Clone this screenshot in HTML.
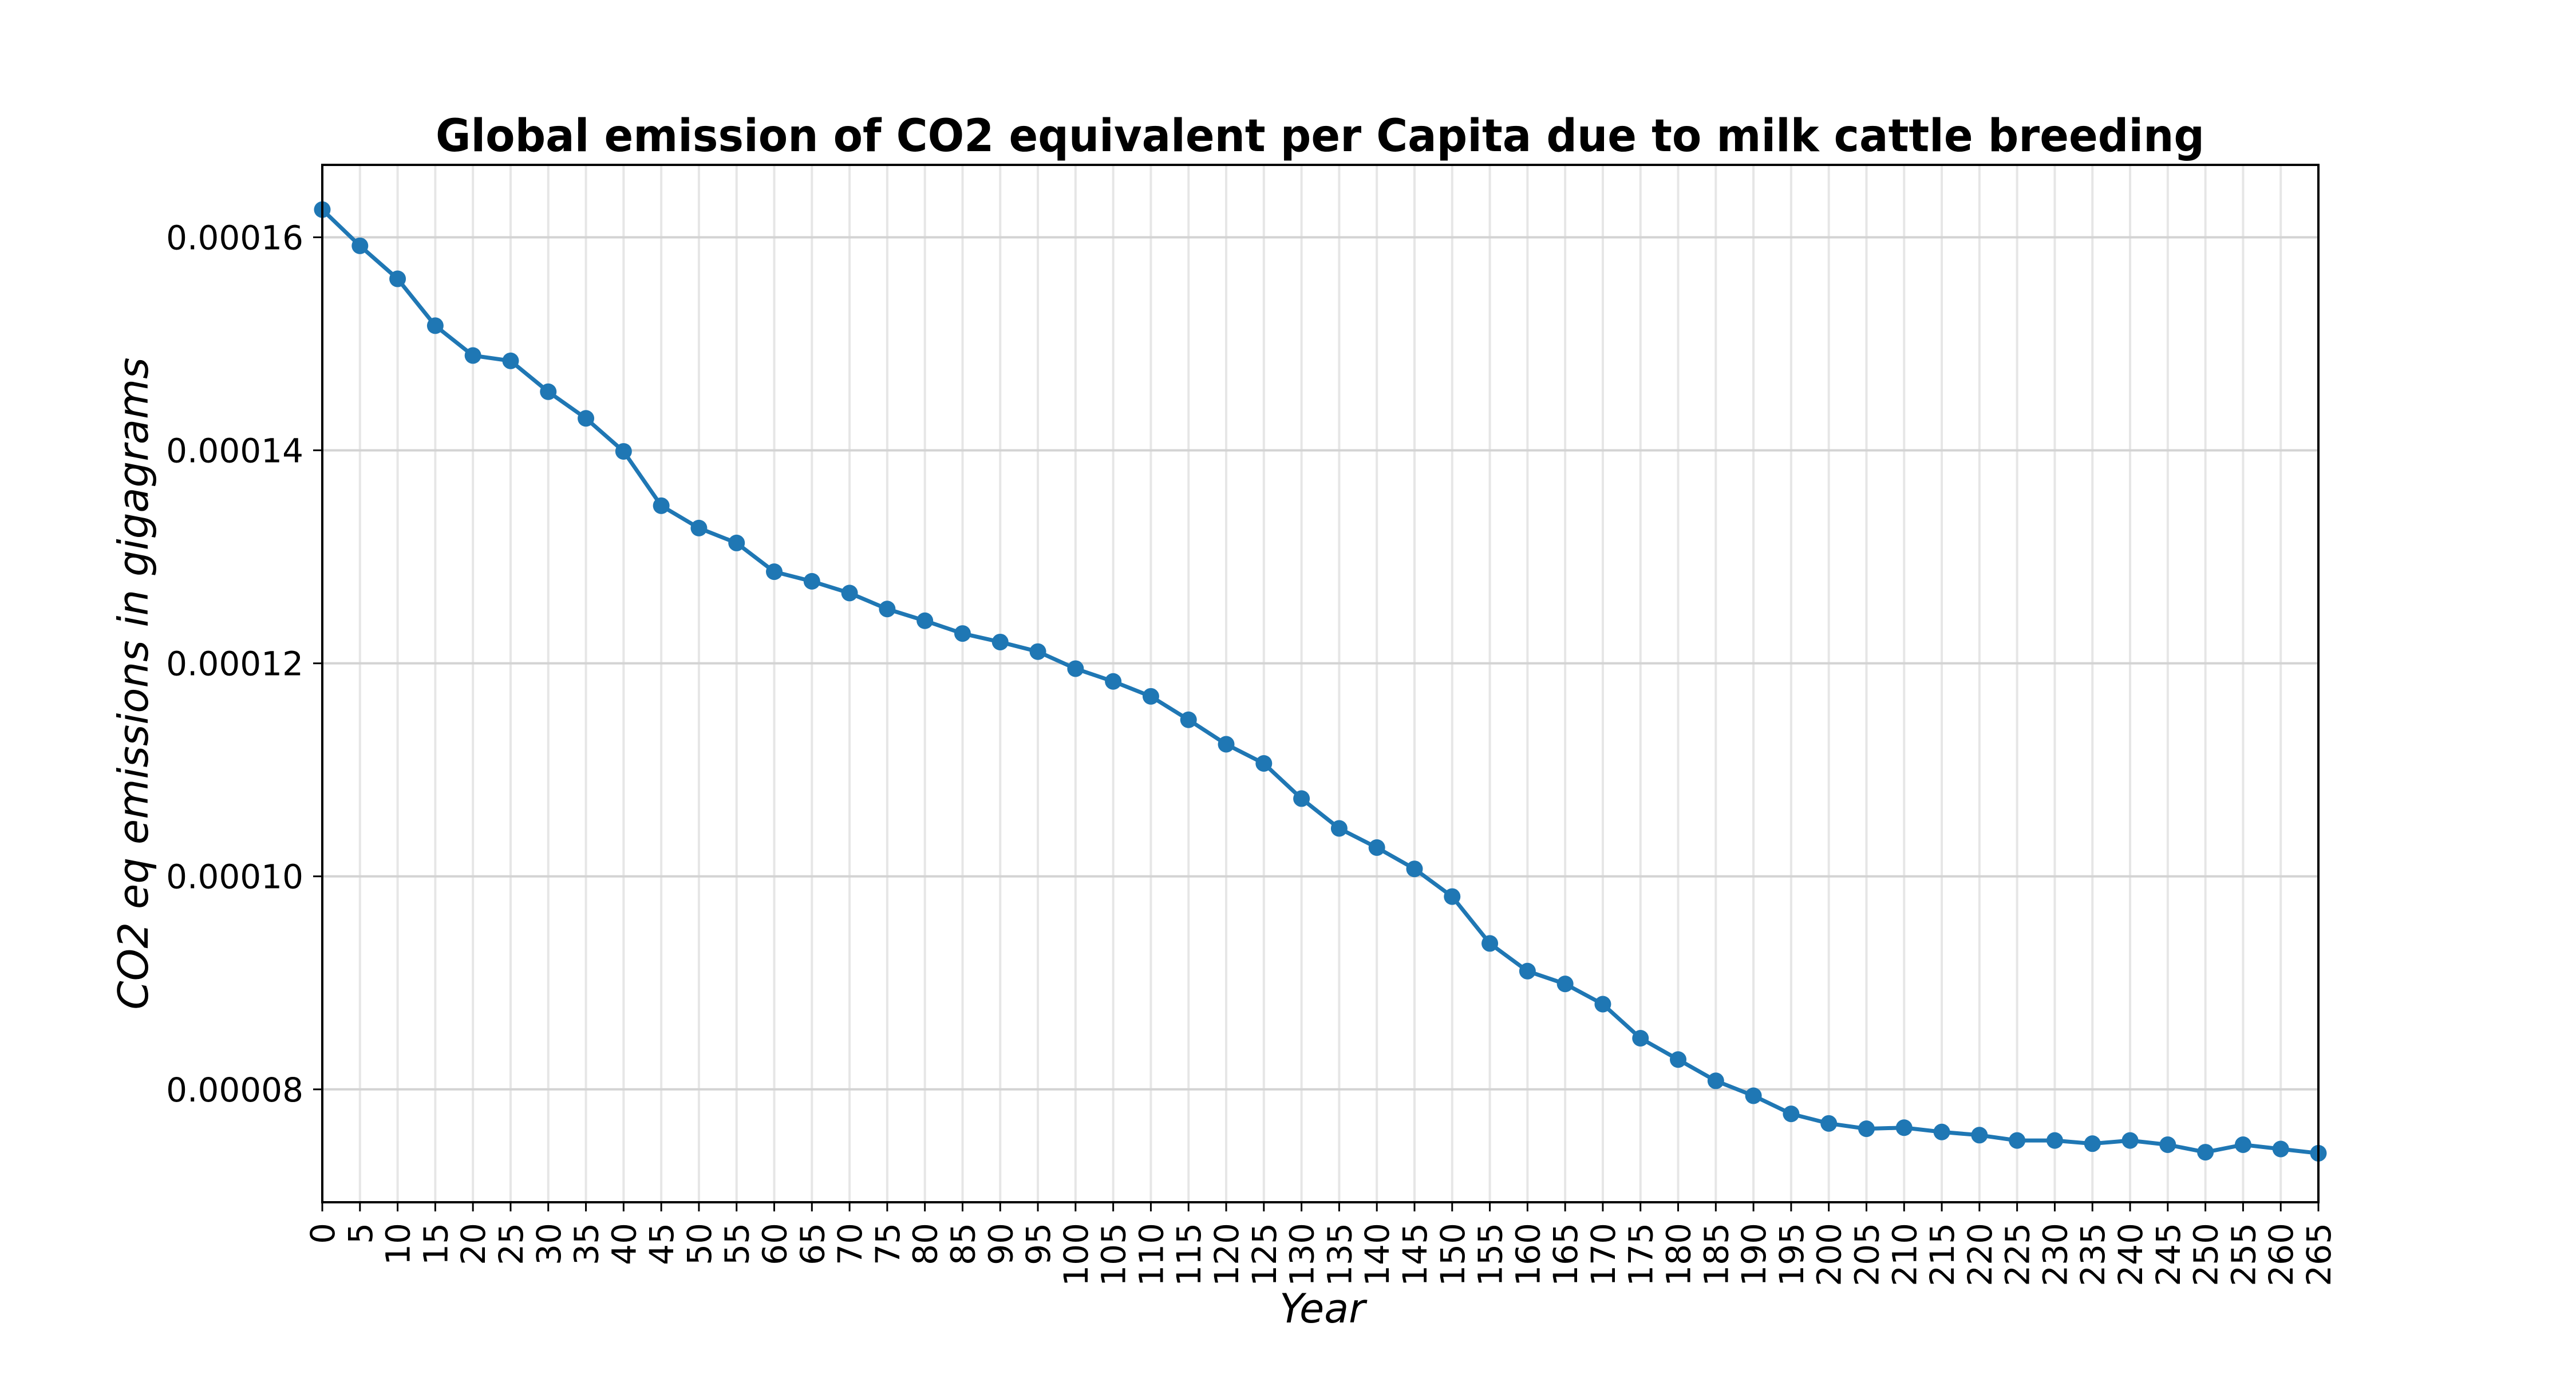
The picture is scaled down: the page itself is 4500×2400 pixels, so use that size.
<!DOCTYPE html>
<html><head><meta charset="utf-8"><style>
html,body{margin:0;padding:0;background:#fff;}
svg{display:block;font-family:"DejaVu Sans","Liberation Sans",sans-serif;}
</style></head><body>
<svg id="chart" width="4500" height="2400" viewBox="0 0 4500 2400" xmlns="http://www.w3.org/2000/svg">
<rect width="4500" height="2400" fill="#fff"/>
<g id="grid"></g>
<g id="series"></g>
<g id="axes"></g>
<text x="2306" y="264" text-anchor="middle" font-weight="bold" font-size="78" textLength="3090" lengthAdjust="spacingAndGlyphs">Global emission of CO2 equivalent per Capita due to milk cattle breeding</text>
<text transform="translate(258,1194) rotate(-90)" text-anchor="middle" font-style="italic" font-size="72">CO2 eq emissions in gigagrams</text>
<text x="2310" y="2310" text-anchor="middle" font-style="italic" font-size="70">Year</text>
</svg>
<script>
const years = [0,5,10,15,20,25,30,35,40,45,50,55,60,65,70,75,80,85,90,95,100,105,110,115,120,125,130,135,140,145,150,155,160,165,170,175,180,185,190,195,200,205,210,215,220,225,230,235,240,245,250,255,260,265];
const emissions = [0.0001626,0.0001592,0.0001561,0.0001517,0.0001489,0.0001484,0.0001455,0.0001430,0.0001399,0.0001348,0.0001327,0.0001313,0.0001286,0.0001277,0.0001266,0.0001251,0.0001240,0.0001228,0.0001220,0.0001211,0.0001195,0.0001183,0.0001169,0.0001147,0.0001124,0.0001106,0.0001073,0.0001045,0.0001027,0.0001007,0.0000981,0.0000937,0.0000911,0.0000899,0.0000880,0.0000848,0.0000828,0.0000808,0.0000794,0.0000777,0.0000768,0.0000763,0.0000764,0.0000760,0.0000757,0.0000752,0.0000752,0.0000749,0.0000752,0.0000748,0.0000741,0.0000748,0.0000744,0.0000740];
const yTicks = [0.00008,0.00010,0.00012,0.00014,0.00016];
const yTickLabels = ["0.00008","0.00010","0.00012","0.00014","0.00016"];

const NS="http://www.w3.org/2000/svg";
const L=563,R=4050,T=288,B=2100;
const xMin=0,xMax=265,yMin=0.0000694,yMax=0.0001668;
function xs(v){return L+(v-xMin)/(xMax-xMin)*(R-L);}
function ys(v){return B-(v-yMin)/(yMax-yMin)*(B-T);}
function mk(tag,attrs,parent){const e=document.createElementNS(NS,tag);for(const k in attrs)e.setAttribute(k,attrs[k]);parent.appendChild(e);return e;}
const grid=document.getElementById('grid'),axes=document.getElementById('axes'),series=document.getElementById('series');

years.forEach(y=>{
  const x=xs(y);
  const g=mk('line',{x1:x,x2:x,y1:T,y2:B,stroke:'#e6e6e6','stroke-width':4},grid);
  
  
  const t=mk('line',{x1:x,x2:x,y1:B,y2:B+16,stroke:'#000','stroke-width':3},axes);
  
  
  const lb=mk('text',{transform:`translate(${x+21},2136) rotate(-90)`,'text-anchor':'end','font-size':58},axes);
  lb.textContent=String(y);
  
  
});
yTicks.forEach((v,i)=>{
  const y=ys(v);
  const g=mk('line',{x1:L,x2:R,y1:y,y2:y,stroke:'#d3d3d3','stroke-width':4},grid);
  
  
  const t=mk('line',{x1:L-16,x2:L,y1:y,y2:y,stroke:'#000','stroke-width':3},axes);
  
  
  const lb=mk('text',{x:530,y:y+21,'text-anchor':'end','font-size':58},axes);
  lb.textContent=yTickLabels[i];
  
  
});
const frame=mk('rect',{x:L,y:T,width:R-L,height:B-T,fill:'none',stroke:'#000','stroke-width':4},axes);



const pts=years.map((y,i)=>xs(y)+','+ys(emissions[i])).join(' ');
const line=mk('polyline',{points:pts,fill:'none',stroke:'#1f77b4','stroke-width':7,'stroke-linejoin':'round'},series);


years.forEach((y,i)=>{
  const c=mk('circle',{cx:xs(y),cy:ys(emissions[i]),r:14.5,fill:'#1f77b4'},series);
  
  
});
</script>
</body></html>
